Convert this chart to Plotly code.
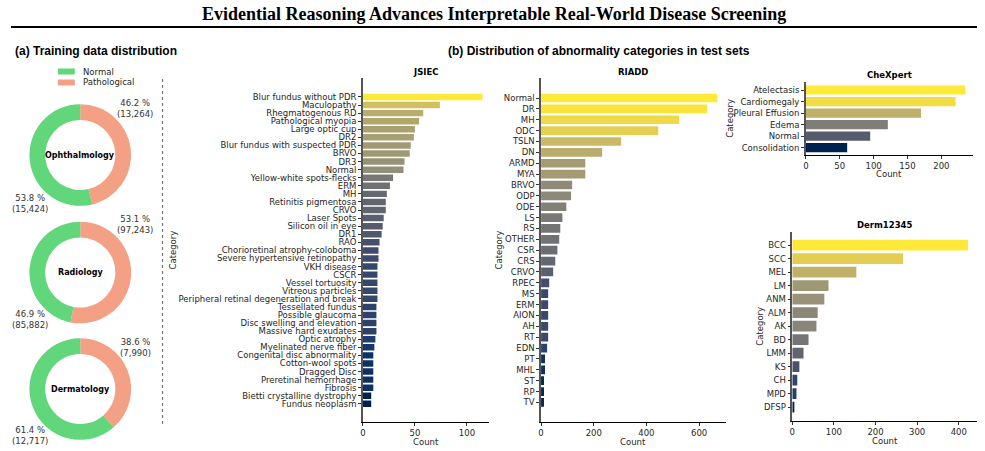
import math
import plotly.graph_objects as go

W, H = 985, 451

# ---------------- data ----------------
pie_domains = ["Ophthalmology", "Radiology", "Dermatology"]
pie_labels = ["Normal", "Pathological"]
normal_counts = [15424, 85882, 12717]
path_counts = [13264, 97243, 7990]

jsiec_cats = ["Blur fundus without PDR", "Maculopathy", "Rhegmatogenous RD", "Pathological myopia",
              "Large optic cup", "DR2", "Blur fundus with suspected PDR", "BRVO", "DR3", "Normal",
              "Yellow-white spots-flecks", "ERM", "MH", "Retinitis pigmentosa", "CRVO", "Laser Spots",
              "Silicon oil in eye", "DR1", "RAO", "Chorioretinal atrophy-coloboma",
              "Severe hypertensive retinopathy", "VKH disease", "CSCR", "Vessel tortuosity",
              "Vitreous particles", "Peripheral retinal degeneration and break", "Tessellated fundus",
              "Possible glaucoma", "Disc swelling and elevation", "Massive hard exudates", "Optic atrophy",
              "Myelinated nerve fiber", "Congenital disc abnormality", "Cotton-wool spots", "Dragged Disc",
              "Preretinal hemorrhage", "Fibrosis", "Bietti crystalline dystrophy", "Fundus neoplasm"]
jsiec_vals = [115, 74, 58, 54, 50, 49, 46, 45, 40, 39,
              29, 26, 23, 22, 22, 20, 19, 18, 16, 15,
              15, 14, 14, 14, 14, 14, 13, 13, 13, 13, 12,
              11, 10, 10, 10, 10, 10, 8, 8]

riadd_cats = ["Normal", "DR", "MH", "ODC", "TSLN", "DN", "ARMD", "MYA", "BRVO", "ODP", "ODE", "LS",
              "RS", "OTHER", "CSR", "CRS", "CRVO", "RPEC", "MS", "ERM", "AION", "AH", "RT", "EDN",
              "PT", "MHL", "ST", "RP", "TV"]
riadd_vals = [668, 630, 524, 445, 304, 232, 168, 168, 118, 114, 96, 81,
              73, 69, 62, 54, 46, 31, 27, 27, 27, 27, 27, 23,
              15, 15, 11, 11, 11]

chex_cats = ["Atelectasis", "Cardiomegaly", "Pleural Effusion", "Edema", "Normal", "Consolidation"]
chex_vals = [235, 221, 170, 121, 95, 61]

derm_cats = ["BCC", "SCC", "MEL", "LM", "ANM", "ALM", "AK", "BD", "LMM", "KS", "CH", "MPD", "DFSP"]
derm_vals = [422, 266, 154, 87, 77, 61, 58, 39, 27, 17, 12, 10, 5]

# ---------------- style ----------------
CIVIDIS = ["#00224e", "#123570", "#3b496c", "#575d6d", "#707173",
           "#8a8678", "#a59c74", "#c3b369", "#e1cc55", "#fee838"]
GREEN = "#62d67a"
SALMON = "#f3a085"
FONT = "DejaVu Sans"
TXT = "#262626"


def hex2rgb(h):
    h = h.lstrip("#")
    return [int(h[i:i + 2], 16) for i in (0, 2, 4)]


def cividis(t):
    t = min(max(t, 0.0), 1.0)
    pos = t * (len(CIVIDIS) - 1)
    i = min(int(math.floor(pos)), len(CIVIDIS) - 2)
    f = pos - i
    a, b = hex2rgb(CIVIDIS[i]), hex2rgb(CIVIDIS[i + 1])
    c = [round(a[k] + (b[k] - a[k]) * f) for k in range(3)]
    return "rgb(%d,%d,%d)" % tuple(c)


def log_colors(vals):
    lo, hi = math.log(min(vals)), math.log(max(vals))
    return [cividis((math.log(v) - lo) / (hi - lo)) for v in vals]


def fx(x):
    return x / W


def fy(y):
    return 1 - y / H


def note(x, y, text, size=8.5, color=TXT, family=FONT, xanchor="center", angle=0):
    return dict(x=fx(x), y=fy(y), xref="paper", yref="paper", text=text, showarrow=False,
                xanchor=xanchor, yanchor="middle", textangle=angle,
                font=dict(family=family, size=size, color=color))


fig = go.Figure()
annotations = []
shapes = []

# ---------------- donuts ----------------
# Pathological runs clockwise from 12 o'clock (right side), Normal fills the left side
centers = [(77.5, 155), (77.5, 272.5), (77.5, 389)]
R = 51
upper_lab = [(132, 108), (132.5, 224), (133, 347.5)]
lower_lab = [(27, 203), (27, 319.5), (27, 435)]
for k, name in enumerate(pie_domains):
    cx, cy = centers[k]
    fig.add_trace(go.Pie(
        labels=[pie_labels[1], pie_labels[0]], values=[path_counts[k], normal_counts[k]],
        hole=0.69, sort=False, direction="clockwise", rotation=0,
        marker=dict(colors=[SALMON, GREEN], line=dict(width=0)),
        textinfo="none", hoverinfo="label+value+percent", showlegend=False,
        domain=dict(x=[fx(cx - R), fx(cx + R)], y=[fy(cy + R), fy(cy - R)])))
    tot = normal_counts[k] + path_counts[k]
    annotations.append(note(cx, cy, "<b>%s</b>" % name, size=8, color="black"))
    ux, uy = upper_lab[k]
    annotations.append(note(ux, uy, "%.1f %%<br>(%s)" % (100 * path_counts[k] / tot,
                                                         format(path_counts[k], ",")), color="#333"))
    lx, ly = lower_lab[k]
    annotations.append(note(lx, ly, "%.1f %%<br>(%s)" % (100 * normal_counts[k] / tot,
                                                         format(normal_counts[k], ",")), color="#333"))

# legend
for i, (lab, col) in enumerate(zip(pie_labels, [GREEN, SALMON])):
    y0 = 68.5 + i * 11
    shapes.append(dict(type="rect", xref="paper", yref="paper", x0=fx(55), x1=fx(72),
                       y0=fy(y0 + 6), y1=fy(y0), fillcolor=col, line=dict(width=0)))
    annotations.append(note(78, y0 + 3, lab, xanchor="left"))

# ---------------- bar panels ----------------
panels = [
    dict(title="JSIEC", cats=jsiec_cats, vals=jsiec_vals, x0=361, x1=487, y0=78, y1=422,
         pt=2.35, pb=2.25, dtick=50, ty=71.5, catx=171, caty=250, county=441.5),
    dict(title="RIADD", cats=riadd_cats, vals=riadd_vals, x0=539.7, x1=725, y0=78, y1=422,
         pt=1.84, pb=1.8, dtick=200, ty=71.5, catx=498, caty=250, county=441.5),
    dict(title="CheXpert", cats=chex_cats, vals=chex_vals, x0=805.3, x1=973, y0=81.7, y1=155,
         pt=0.72, pb=0.64, dtick=50, ty=75, catx=729, caty=118, county=173.5),
    dict(title="Derm12345", cats=derm_cats, vals=derm_vals, x0=791.7, x1=976.7, y0=231.7, y1=420.7,
         pt=1.0, pb=1.0, dtick=100, ty=225, catx=759, caty=326, county=440.5),
]

layout_axes = {}
for i, p in enumerate(panels):
    n = i + 1
    xs = "x" if n == 1 else "x%d" % n
    ys = "y" if n == 1 else "y%d" % n
    fig.add_trace(go.Bar(orientation="h", x=p["vals"], y=p["cats"], xaxis=xs, yaxis=ys,
                         marker=dict(color=log_colors(p["vals"]), line=dict(width=0)),
                         width=0.8, showlegend=False))
    nc = len(p["cats"])
    layout_axes["xaxis" if n == 1 else "xaxis%d" % n] = dict(
        domain=[fx(p["x0"]), fx(p["x1"])], anchor=ys, range=[0, max(p["vals"]) * 1.05],
        dtick=p["dtick"], tick0=0, showgrid=False, zeroline=False, showline=True,
        linecolor="black", linewidth=1.2, ticks="outside", ticklen=3, tickwidth=1, tickcolor="#333",
        tickfont=dict(family=FONT, size=8.5, color=TXT))
    layout_axes["yaxis" if n == 1 else "yaxis%d" % n] = dict(
        domain=[fy(p["y1"]), fy(p["y0"])], anchor=xs, type="category",
        categoryorder="array", categoryarray=p["cats"],
        tickmode="array", tickvals=p["cats"], ticktext=p["cats"],
        range=[nc - 1 + p["pb"], -p["pt"]], showgrid=False, zeroline=False, showline=True,
        linecolor="#555", linewidth=1.5, ticks="outside", ticklen=3, tickwidth=1, tickcolor="#333",
        tickfont=dict(family=FONT, size=8.5, color=TXT))
    cx = (p["x0"] + p["x1"]) / 2
    annotations.append(note(cx, p["ty"], "<b>%s</b>" % p["title"], color="black"))
    annotations.append(note(cx, p["county"], "Count"))
    annotations.append(note(p["catx"], p["caty"], "Category", angle=-90))

# ---------------- titles / separators ----------------
annotations.append(note(492, 14, "<b>Evidential Reasoning Advances Interpretable Real-World Disease Screening</b>",
                        size=18, color="black", family="Liberation Serif"))
annotations.append(note(10, 51, "<b>(a) Training data distribution</b>", size=12, color="black",
                        family="Liberation Sans", xanchor="left"))
annotations.append(note(598, 51, "<b>(b) Distribution of abnormality categories in test sets</b>",
                        size=12, color="black", family="Liberation Sans"))
shapes.append(dict(type="line", xref="paper", yref="paper", x0=fx(8), x1=fx(977), y0=fy(27), y1=fy(27),
                   line=dict(color="black", width=2)))
shapes.append(dict(type="line", xref="paper", yref="paper", x0=fx(160), x1=fx(160), y0=fy(79), y1=fy(424),
                   line=dict(color="#777", width=1.2, dash="dot")))

fig.update_layout(width=W, height=H, margin=dict(l=0, r=0, t=0, b=0),
                  paper_bgcolor="white", plot_bgcolor="white", bargap=0.2,
                  annotations=annotations, shapes=shapes, **layout_axes)
fig.write_html("out.html")
